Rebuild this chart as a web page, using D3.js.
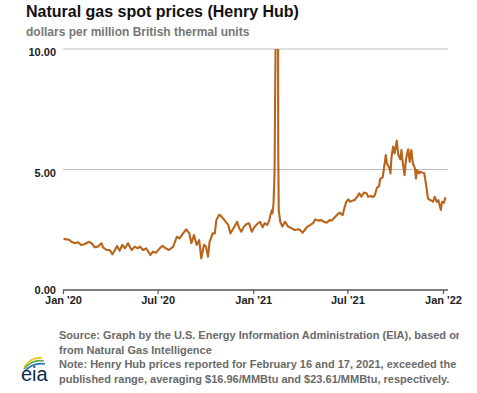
<!DOCTYPE html>
<html><head><meta charset="utf-8">
<script src="https://cdn.jsdelivr.net/npm/d3@7"></script>
<style>body{margin:0;background:#fff}svg{display:block}text{font-family:"Liberation Sans",Arial,sans-serif}</style>
</head><body><svg id="c" width="477" height="393"></svg>
<script>
const title = "Natural gas spot prices (Henry Hub)";
const subtitle = "dollars per million British thermal units";
const yTicks = [0, 5, 10];
const yTickLabels = ["0.00", "5.00", "10.00"];
const xTicks = ["2020-01-01", "2020-07-01", "2021-01-01", "2021-07-01", "2022-01-01"];
const xTickLabels = ["Jan '20", "Jul '20", "Jan '21", "Jul '21", "Jan '22"];
const footLines = [
  "Source: Graph by the U.S. Energy Information Administration (EIA), based on",
  "from Natural Gas Intelligence",
  "Note: Henry Hub prices reported for February 16 and 17, 2021, exceeded the",
  "published range, averaging $16.96/MMBtu and $23.61/MMBtu, respectively."
];
const dates = [
 "2020-01-02","2020-01-09","2020-01-14","2020-01-17","2020-01-24","2020-01-30","2020-02-05","2020-02-11","2020-02-20","2020-02-25",
 "2020-03-02","2020-03-08","2020-03-15","2020-03-18","2020-03-25","2020-03-31","2020-04-05","2020-04-10","2020-04-14","2020-04-19",
 "2020-04-24","2020-04-29","2020-05-05","2020-05-12","2020-05-18","2020-05-24","2020-05-28","2020-06-03","2020-06-09","2020-06-17",
 "2020-06-22","2020-06-28","2020-07-05","2020-07-10","2020-07-17","2020-07-23","2020-07-31","2020-08-07","2020-08-12","2020-08-19",
 "2020-08-25","2020-08-31","2020-09-04","2020-09-09","2020-09-14","2020-09-19","2020-09-23","2020-09-28","2020-10-02","2020-10-06",
 "2020-10-09","2020-10-15","2020-10-19","2020-10-22","2020-10-27","2020-10-29","2020-11-04","2020-11-09","2020-11-14","2020-11-18",
 "2020-11-22","2020-11-26","2020-12-01","2020-12-05","2020-12-09","2020-12-14","2020-12-19","2020-12-24","2020-12-29","2021-01-04",
 "2021-01-10","2021-01-14","2021-01-19","2021-01-23","2021-01-28","2021-02-01","2021-02-03","2021-02-06","2021-02-07","2021-02-09",
 "2021-02-11","2021-02-12","2021-02-16","2021-02-17","2021-02-18","2021-02-19","2021-02-22","2021-02-26","2021-03-03","2021-03-09",
 "2021-03-16","2021-03-22","2021-03-29","2021-04-01","2021-04-06","2021-04-10","2021-04-15","2021-04-21","2021-04-26","2021-04-30",
 "2021-05-06","2021-05-12","2021-05-17","2021-05-22","2021-05-28","2021-06-01","2021-06-07","2021-06-11","2021-06-16","2021-06-22",
 "2021-06-26","2021-06-29","2021-07-03","2021-07-06","2021-07-11","2021-07-15","2021-07-20","2021-07-24","2021-07-28","2021-08-02",
 "2021-08-07","2021-08-10","2021-08-15","2021-08-19","2021-08-23","2021-08-27","2021-08-31","2021-09-02","2021-09-07","2021-09-09",
 "2021-09-13","2021-09-15","2021-09-20","2021-09-22","2021-09-24","2021-09-27","2021-09-30","2021-10-04","2021-10-07","2021-10-11",
 "2021-10-13","2021-10-15","2021-10-19","2021-10-22","2021-10-26","2021-10-29","2021-11-01","2021-11-04","2021-11-08","2021-11-10",
 "2021-11-12","2021-11-16","2021-11-18","2021-11-22","2021-11-26","2021-11-30","2021-12-03","2021-12-07","2021-12-10","2021-12-13",
 "2021-12-16","2021-12-20","2021-12-23","2021-12-27","2021-12-28","2021-12-30","2022-01-03","2022-01-05","2022-01-06"
];
const prices = [
 2.12,2.10,2.07,2.00,1.94,1.98,1.87,1.90,2.00,1.94,
 1.77,1.80,1.94,1.77,1.66,1.66,1.48,1.66,1.83,1.63,
 1.87,1.73,1.94,1.66,1.80,1.73,1.80,1.66,1.73,1.45,
 1.59,1.55,1.73,1.83,1.73,1.66,1.80,2.21,2.14,2.35,
 2.52,2.35,1.94,2.28,1.87,2.07,1.31,1.87,1.80,1.38,
 2.00,2.35,2.35,2.90,3.11,3.11,2.97,2.83,2.70,2.35,
 2.49,2.63,2.83,2.56,2.42,2.63,2.74,2.77,2.42,2.63,
 2.77,2.83,2.60,2.77,2.70,2.90,3.11,3.32,3.18,3.60,
 4.90,7.90,16.96,23.61,6.00,3.30,2.83,2.63,2.83,2.63,
 2.56,2.49,2.52,2.49,2.38,2.49,2.63,2.70,2.77,2.93,
 2.88,2.90,2.83,2.79,2.90,2.88,3.02,3.11,3.21,3.11,
 3.46,3.66,3.76,3.66,3.71,3.73,3.87,4.01,3.87,4.04,
 4.01,3.87,3.90,3.85,3.94,4.25,4.30,4.60,4.68,4.98,
 5.60,5.26,5.05,4.84,5.53,5.95,5.67,6.20,5.60,5.42,
 5.81,5.39,4.77,5.46,5.84,5.32,5.81,5.26,5.05,4.63,
 4.98,4.84,4.91,4.87,4.84,4.29,3.80,3.73,3.71,3.66,
 3.87,3.66,3.73,3.39,3.32,3.66,3.62,3.80,3.85
];

const parse = d3.timeParse("%Y-%m-%d");
const data = dates.map((d, i) => ({date: parse(d), value: prices[i]}));
const svg = d3.select("#c");
const pLeft = 63, pRight = 443, gridRight = 448, pTop = 49, pBottom = 290;
const x = d3.scaleTime().domain([parse("2020-01-01"), parse("2022-01-01")]).range([pLeft, pRight]);
const y = d3.scaleLinear().domain([0, 10]).range([pBottom, pTop]);

svg.append("text").attr("x", 26).attr("y", 17).attr("font-size", 16).attr("font-weight", "bold").attr("fill", "#111").text(title);
svg.append("text").attr("x", 26).attr("y", 36).attr("font-size", 12).attr("font-weight", "bold").attr("fill", "#777").text(subtitle);

svg.append("g").selectAll("line").data(yTicks.filter(v => v > 0)).join("line")
  .attr("x1", pLeft).attr("x2", gridRight).attr("y1", d => y(d)).attr("y2", d => y(d))
  .attr("stroke", "#bdbdbd").attr("stroke-width", 1);

svg.append("g").selectAll("text").data(yTicks).join("text")
  .attr("x", 56).attr("y", d => d === 0 ? y(d) + 4 : y(d) + 7).attr("text-anchor", "end")
  .attr("font-size", 11).attr("font-weight", "bold").attr("fill", "#222")
  .text((d, i) => yTickLabels[i]);

svg.append("clipPath").attr("id", "plotclip").append("rect")
  .attr("x", pLeft - 5).attr("y", pTop).attr("width", gridRight - pLeft + 10).attr("height", pBottom - pTop + 5);

const line = d3.line().x(d => x(d.date)).y(d => y(d.value));
svg.append("path").datum(data).attr("clip-path", "url(#plotclip)")
  .attr("d", line).attr("fill", "none").attr("stroke", "#b8641a").attr("stroke-width", 2.1)
  .attr("stroke-linejoin", "round");

const xAxis = d3.axisBottom(x).tickValues(xTicks.map(parse)).tickSize(4)
  .tickFormat((d, i) => xTickLabels[i]);
const gx = svg.append("g").attr("transform", `translate(0,${pBottom})`).call(xAxis);
gx.select(".domain").remove();
gx.selectAll(".tick line").attr("stroke", "#555").attr("stroke-width", 1.2);
gx.selectAll(".tick text").attr("font-size", 11).attr("font-weight", "bold").attr("fill", "#222")
  .attr("font-family", "Liberation Sans, Arial, sans-serif").attr("dy", "0.71em").attr("y", 6.5);
svg.append("line").attr("x1", pLeft).attr("x2", gridRight).attr("y1", pBottom).attr("y2", pBottom)
  .attr("stroke", "#555").attr("stroke-width", 1.5);

svg.append("clipPath").attr("id", "footclip").append("rect").attr("x", 0).attr("y", 320).attr("width", 459).attr("height", 73);
svg.append("g").attr("clip-path", "url(#footclip)").selectAll("text").data(footLines).join("text")
  .attr("x", 59).attr("y", (d, i) => 339 + i * 14.7)
  .attr("font-size", 11).attr("font-weight", "bold").attr("fill", "#6a6a6a").text(d => d);

const logo = svg.append("g");
logo.append("path").attr("d", "M25,371 Q33,362 45,364").attr("fill", "none").attr("stroke", "#1c75bc").attr("stroke-width", 1.6);
logo.append("path").attr("d", "M24,369 Q32,359 44,361").attr("fill", "none").attr("stroke", "#5aae47").attr("stroke-width", 1.6);
logo.append("path").attr("d", "M24,367 Q31,357 42,358").attr("fill", "none").attr("stroke", "#f2c214").attr("stroke-width", 1.6);
logo.append("text").attr("x", 21).attr("y", 381).attr("font-family", "Liberation Serif, Times New Roman, serif")
  .attr("font-size", 20).attr("fill", "#0d2a4e").text("eia");
</script></body></html>
